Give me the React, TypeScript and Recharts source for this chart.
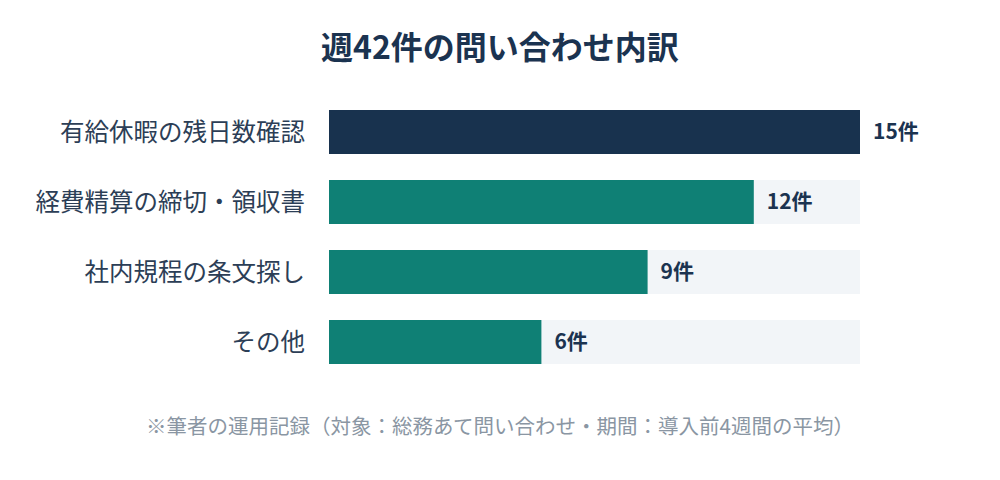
import { Bar, BarChart, Cell, LabelList, XAxis, YAxis } from "recharts"

const categories = [
  "有給休暇の残日数確認",
  "経費精算の締切・領収書",
  "社内規程の条文探し",
  "その他",
]
const counts = [15, 12, 9, 6]
const barColors = ["#18324e", "#0f8075", "#0f8075", "#0f8075"]
const xTicks = [0, 15]

const data = categories.map((name, i) => ({ name, count: counts[i] }))

const font = '"Noto Sans CJK JP", "Noto Sans", sans-serif'

export default function App() {
  return (
    <div
      style={{
        position: "absolute",
        left: 0,
        top: 0,
        width: 1000,
        height: 480,
        background: "#ffffff",
        fontFamily: font,
      }}
    >
      <div
        style={{
          position: "absolute",
          top: 22,
          width: 1000,
          textAlign: "center",
          fontSize: 32,
          fontWeight: 700,
          color: "#1b3350",
          lineHeight: "46px",
        }}
      >
        週42件の問い合わせ内訳
      </div>
      <BarChart
        width={1000}
        height={480}
        data={data}
        layout="vertical"
        margin={{ top: 97, right: 140, bottom: 103, left: 0 }}
        barSize={44}
      >
        <XAxis type="number" domain={[0, 15]} ticks={xTicks} hide />
        <YAxis
          type="category"
          dataKey="name"
          width={329}
          tickLine={false}
          axisLine={false}
          tickMargin={18}
          tick={{ fontSize: 24.5, fill: "#2c3e56", fontFamily: font }}
        />
        <Bar
          dataKey="count"
          background={{ fill: "#f2f5f8" }}
          isAnimationActive={false}
        >
          {data.map((d, i) => (
            <Cell key={d.name} fill={barColors[i]} />
          ))}
          <LabelList
            dataKey="count"
            position="right"
            offset={13}
            formatter={(v: number) => `${v}件`}
            style={{
              fontSize: 21,
              fontWeight: 700,
              fill: "#1b3350",
              fontFamily: font,
            }}
          />
        </Bar>
      </BarChart>
      <div
        style={{
          position: "absolute",
          top: 409,
          width: 1000,
          textAlign: "center",
          fontSize: 20.5,
          color: "#8a96a3",
          lineHeight: "32px",
        }}
      >
        ※筆者の運用記録（対象：総務あて問い合わせ・期間：導入前4週間の平均）
      </div>
    </div>
  )
}
